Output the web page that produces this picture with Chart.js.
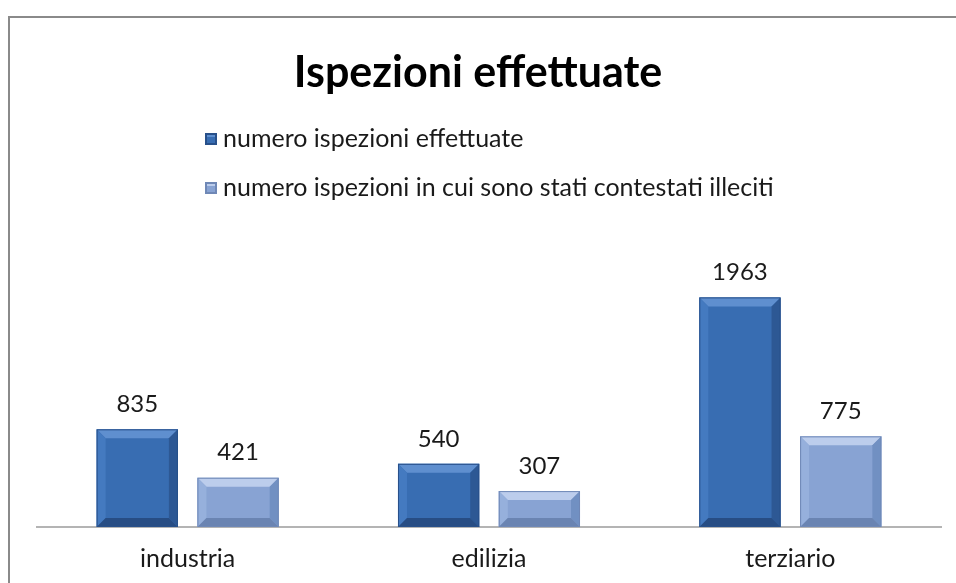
<!DOCTYPE html>
<html>
<head>
<meta charset="utf-8">
<script src="https://cdn.jsdelivr.net/npm/chart.js@4"></script>
<style>
    body { margin: 0; background: #fff; overflow: hidden; }
    #frame { position: absolute; left: 8px; top: 16px; width: 2000px; height: 2000px; border: 2px solid #8a8a8a; }
    #wrap { position: absolute; left: 0; top: 0; width: 956px; height: 583px; }
</style>
</head>
<body>
<div id="frame"></div>
<div id="wrap"><canvas id="chart" width="956" height="583"></canvas></div>
<script>
const categories = ['industria', 'edilizia', 'terziario'];
const seriesNames = ['numero ispezioni effettuate', 'numero ispezioni in cui sono stati contestati illeciti'];
const effettuate = [835, 540, 1963];
const illeciti = [421, 307, 775];

const FONT = 'Lato, "Open Sans", sans-serif';

// colours per series: main fill, top bevel, left bevel, right bevel, bottom bevel, edge
const shades = [
    { main: '#386db2', top: '#5f8fcf', left: '#447ac0', right: '#2d5894', bottom: '#274d84', edge: '#28508a' },
    { main: '#88a3d3', top: '#bccdec', left: '#96b0dc', right: '#7190c2', bottom: '#6a84b2', edge: '#6f88b6' },
];

const bevelPlugin = {
    id: 'bevel',
    afterDatasetsDraw(chart) {
        const ctx = chart.ctx;
        chart.data.datasets.forEach((ds, i) => {
            const s = shades[i];
            chart.getDatasetMeta(i).data.forEach((bar, j) => {
                const l = bar.x - bar.width / 2, r = bar.x + bar.width / 2;
                const t = bar.y, b = bar.base;
                const k = Math.min(9, (b - t) / 2);
                const poly = (pts, c) => {
                    ctx.beginPath();
                    ctx.moveTo(pts[0][0], pts[0][1]);
                    pts.slice(1).forEach(p => ctx.lineTo(p[0], p[1]));
                    ctx.closePath();
                    ctx.fillStyle = c;
                    ctx.fill();
                };
                ctx.save();
                poly([[l, t], [r, t], [r - k, t + k], [l + k, t + k]], s.top);
                poly([[l, t], [l + k, t + k], [l + k, b - k], [l, b]], s.left);
                poly([[r, t], [r, b], [r - k, b - k], [r - k, t + k]], s.right);
                poly([[l, b], [l + k, b - k], [r - k, b - k], [r, b]], s.bottom);
                ctx.strokeStyle = s.edge;
                ctx.lineWidth = 1;
                ctx.strokeRect(l + 0.5, t + 0.5, r - l - 1, b - t - 1);
                // value label
                ctx.fillStyle = '#1a1a1a';
                ctx.font = '24px ' + FONT;
                ctx.textAlign = 'center';
                ctx.textBaseline = 'middle';
                ctx.fillText(ds.data[j], bar.x, t - 25);
                ctx.restore();
            });
        });
    }
};

const legendPlugin = {
    id: 'sideLegend',
    afterDraw(chart) {
        const ctx = chart.ctx;
        ctx.save();
        chart.data.datasets.forEach((ds, i) => {
            const y = 139 + i * 49;
            const s = shades[i];
            ctx.fillStyle = s.edge;
            ctx.fillRect(205, y - 6, 12, 12);
            ctx.fillStyle = s.main;
            ctx.fillRect(207, y - 4, 8, 8);
            ctx.fillStyle = s.top;
            ctx.fillRect(207, y - 4, 8, 2);
            ctx.fillStyle = '#1a1a1a';
            ctx.font = '25px ' + FONT;
            ctx.textAlign = 'left';
            ctx.textBaseline = 'middle';
            ctx.fillText(ds.label, 223, y);
        });
        ctx.restore();
    }
};

new Chart(document.getElementById('chart'), {
    type: 'bar',
    data: {
        labels: categories,
        datasets: [
            { label: seriesNames[0], data: effettuate, backgroundColor: shades[0].main, categoryPercentage: 0.669, barPercentage: 0.806 },
            { label: seriesNames[1], data: illeciti, backgroundColor: shades[1].main, categoryPercentage: 0.669, barPercentage: 0.806 },
        ]
    },
    options: {
        responsive: false,
        animation: false,
        layout: { padding: { left: 15, right: 15, top: 0, bottom: 10 } },
        plugins: {
            legend: { display: false },
            tooltip: { enabled: false },
            title: {
                display: true,
                text: 'Ispezioni effettuate',
                color: '#000',
                font: { family: FONT, size: 43, weight: 'bold' },
                padding: { top: 47, bottom: 136 }
            }
        },
        scales: {
            y: {
                min: 0, max: 2500,
                grid: { display: false, drawTicks: false },
                border: { display: false },
                ticks: { display: false },
                afterFit(scale) { scale.width = 22; }
            },
            x: {
                grid: { display: false, drawTicks: false },
                border: { color: '#b4b4b4', width: 2 },
                ticks: { color: '#1a1a1a', font: { family: FONT, size: 25 }, padding: 17 },
                afterFit(scale) { scale.height = 46; }
            }
        }
    },
    plugins: [bevelPlugin, legendPlugin]
});
</script>
</body>
</html>
